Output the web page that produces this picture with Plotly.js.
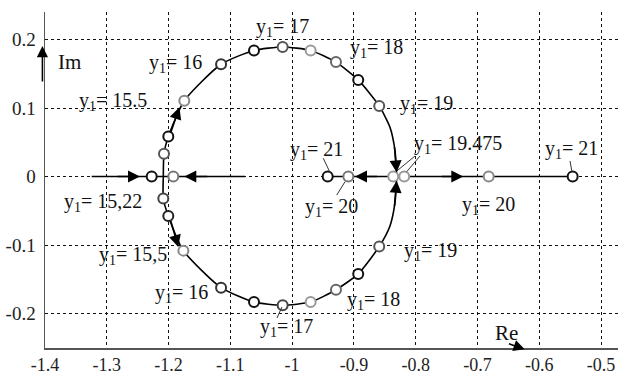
<!DOCTYPE html>
<html>
<head>
<meta charset="utf-8">
<script src="https://cdn.plot.ly/plotly-3.0.1.min.js"></script>
<style>
  html, body { margin: 0; padding: 0; background: #fff; }
  #chart { width: 618px; height: 374px; }
</style>
</head>
<body>
<div id="chart"></div>
<script>
// Root locus of the closed loop as the gain y1 varies.

// Complex branch, upper half (Re, Im), from the left real-axis crossing to the breakaway point
const upperRe = [-1.2085, -1.2074, -1.2004, -1.1745, -1.115, -1.0617, -1.0153, -0.970, -0.929, -0.893, -0.859, -0.8416, -0.8335, -0.8308];
const upperIm = [0, 0.0333, 0.0584, 0.1106, 0.1638, 0.184, 0.189, 0.184, 0.167, 0.141, 0.103, 0.072, 0.038, 0];
// Complex branch, lower half
const lowerRe = [-1.2085, -1.2085, -1.2004, -1.176, -1.115, -1.0617, -1.0153, -0.970, -0.929, -0.893, -0.859, -0.8416, -0.8335, -0.8308];
const lowerIm = [0, -0.032, -0.0575, -0.108, -0.162, -0.183, -0.1875, -0.183, -0.165, -0.142, -0.102, -0.072, -0.038, 0];

// Real-axis branches (segment ends)
const realLeftRe = [-1.3245, -1.0763];
const realRightRe = [-0.9424, -0.5459];

// Computed roots marked with circles
const rootRe = [-1.2074, -1.2004, -1.1745, -1.115, -1.0617, -1.0153, -0.970, -0.929, -0.893, -0.859,
                -1.2085, -1.2004, -1.176, -1.115, -1.0617, -1.0153, -0.970, -0.929, -0.893, -0.859,
                -1.2273, -1.1923, -0.9424, -0.909, -0.8363, -0.8185, -0.6818, -0.5459];
const rootIm = [0.0333, 0.0584, 0.1106, 0.1638, 0.184, 0.189, 0.184, 0.167, 0.141, 0.103,
                -0.032, -0.0575, -0.108, -0.162, -0.183, -0.1875, -0.183, -0.165, -0.142, -0.102,
                0, 0, 0, 0, 0, 0, 0, 0];
const rootColor = ['#555', '#111', '#888', '#333', '#111', '#555', '#999', '#666', '#111', '#555',
                   '#444', '#222', '#888', '#333', '#111', '#444', '#999', '#666', '#111', '#555',
                   '#111', '#777', '#111', '#777', '#999', '#999', '#888', '#111'];

// Gain values written next to the roots
const gainText = ['17', '18', '16', '15.5', '19', '21', '19.475', '21',
                  '20', '20', '19', '18', '17', '16', '15,5', '15,22'];
const gainPos = [[-1.0617, 0.2181], [-0.9095, 0.1875], [-1.2349, 0.1656], [-1.3482, 0.1102],
                 [-0.8286, 0.1044], [-1.0067, 0.0387], [-0.806, 0.0475], [-0.5939, 0.0402],
                 [-0.9824, -0.0444], [-0.7283, -0.0429], [-0.8221, -0.1086], [-0.9144, -0.18],
                 [-1.0552, -0.2194], [-1.2252, -0.1698], [-1.3158, -0.1144], [-1.3725, -0.0385]];

// Axis ticks
const xTicks = [-1.4, -1.3, -1.2, -1.1, -1.0, -0.9, -0.8, -0.7, -0.6, -0.5];
const xTickText = ['-1.4', '-1.3', '-1.2', '-1.1', '-1', '-0.9', '-0.8', '-0.7', '-0.6', '-0.5'];
const yTicks = [-0.2, -0.1, 0, 0.1, 0.2];
const yTickText = ['-0.2', '-0.1', '0', '0.1', '0.2'];

const SERIF = "'Liberation Serif', 'Times New Roman', Times, serif";
const lineStyle = { color: '#000', width: 1.6 };

const traces = [
  { x: upperRe, y: upperIm, mode: 'lines', line: Object.assign({ shape: 'spline', smoothing: 0.6 }, lineStyle), hoverinfo: 'skip' },
  { x: lowerRe, y: lowerIm, mode: 'lines', line: Object.assign({ shape: 'spline', smoothing: 0.6 }, lineStyle), hoverinfo: 'skip' },
  { x: realLeftRe, y: [0, 0], mode: 'lines', line: lineStyle, hoverinfo: 'skip' },
  { x: realRightRe, y: [0, 0], mode: 'lines', line: lineStyle, hoverinfo: 'skip' },
  { x: rootRe, y: rootIm, mode: 'markers',
    marker: { symbol: 'circle', size: 10, color: '#fff', line: { color: rootColor, width: 2 } } }
];

// Direction arrows along the branches: [tipRe, tipIm, tailRe, tailIm]
const arrows = [
  [-1.2462, 0, -1.285, 0],
  [-1.1745, 0, -1.135, 0],
  [-0.8982, 0, -0.86, 0],
  [-0.7229, 0, -0.76, 0],
  [-0.8308, 0.006, -0.8345, 0.045],
  [-0.8308, -0.006, -0.8345, -0.045],
  [-1.1824, 0.101, -1.197, 0.063],
  [-1.1842, -0.1027, -1.197, -0.063]
];

const annotations = [];
arrows.forEach(a => annotations.push({
  x: a[0], y: a[1], ax: a[2], ay: a[3], xref: 'x', yref: 'y', axref: 'x', ayref: 'y',
  showarrow: true, arrowhead: 2, arrowsize: 1.5, arrowwidth: 1.6, arrowcolor: '#000', text: '', standoff: 0
}));

gainText.forEach((t, i) => annotations.push({
  x: gainPos[i][0], y: gainPos[i][1], xref: 'x', yref: 'y',
  text: 'y<sub>1</sub>= ' + t, showarrow: false, xanchor: 'left', yanchor: 'middle',
  font: { family: SERIF, size: 20, color: '#111' }
}));

// Axis names with their arrows
annotations.push({ xref: 'paper', yref: 'y', x: -0.0045, y: 0.1904, ax: -0.0045, ay: 0.1365,
  axref: 'paper', ayref: 'y', showarrow: true, arrowhead: 2, arrowsize: 1.4, arrowwidth: 1.6,
  arrowcolor: '#000', text: '', standoff: 0 });
annotations.push({ xref: 'paper', yref: 'y', x: 0.0185, y: 0.1675, text: 'Im', showarrow: false,
  xanchor: 'left', yanchor: 'middle', font: { family: SERIF, size: 21, color: '#111' } });
annotations.push({ xref: 'x', yref: 'paper', x: -0.6235, y: -0.004, ax: -0.6515, ay: 0.014,
  axref: 'x', ayref: 'paper', showarrow: true, arrowhead: 2, arrowsize: 1.4, arrowwidth: 1.6,
  arrowcolor: '#000', text: '', standoff: 0 });
annotations.push({ xref: 'x', yref: 'paper', x: -0.6745, y: 0.045, text: 'Re', showarrow: false,
  xanchor: 'left', yanchor: 'middle', font: { family: SERIF, size: 21, color: '#111' } });

// Leader lines from labels to their roots
const leaders = [
  [-0.9495, 0.0266, -0.9392, 0.007],
  [-0.9144, -0.0075, -0.9278, -0.027],
  [-0.8011, 0.030, -0.8319, 0.0071],
  [-0.793, 0.030, -0.8145, 0.0071],
  [-0.5502, 0.0227, -0.547, 0.0067],
  [-1.0164, -0.1902, -1.0245, -0.2062]
];
const shapes = leaders.map(l => ({ type: 'line', xref: 'x', yref: 'y',
  x0: l[0], y0: l[1], x1: l[2], y1: l[3], line: { color: '#333', width: 1 } }));

const axisCommon = {
  showgrid: true, gridcolor: '#111', gridwidth: 1, griddash: '3px,3px',
  zeroline: false, showline: true, linecolor: '#555', linewidth: 1.5,
  ticks: '', ticklen: 0,
  tickfont: { family: SERIF, size: 18, color: '#222' }, fixedrange: true
};

const layout = {
  width: 618, height: 374,
  margin: { l: 45, r: 0, t: 12, b: 26, pad: 0 },
  paper_bgcolor: '#fff', plot_bgcolor: '#fff',
  showlegend: false,
  xaxis: Object.assign({}, axisCommon, { range: [-1.4, -0.4725], tickmode: 'array', tickvals: xTicks, ticktext: xTickText }),
  yaxis: Object.assign({}, axisCommon, { range: [-0.25, 0.24], tickmode: 'array', tickvals: yTicks, ticktext: yTickText, ticklabelstandoff: 4,
    tickfont: { family: SERIF, size: 19, color: '#222' } }),
  annotations: annotations,
  shapes: shapes
};

Plotly.newPlot('chart', traces, layout, { staticPlot: true, displayModeBar: false });
</script>
</body>
</html>
